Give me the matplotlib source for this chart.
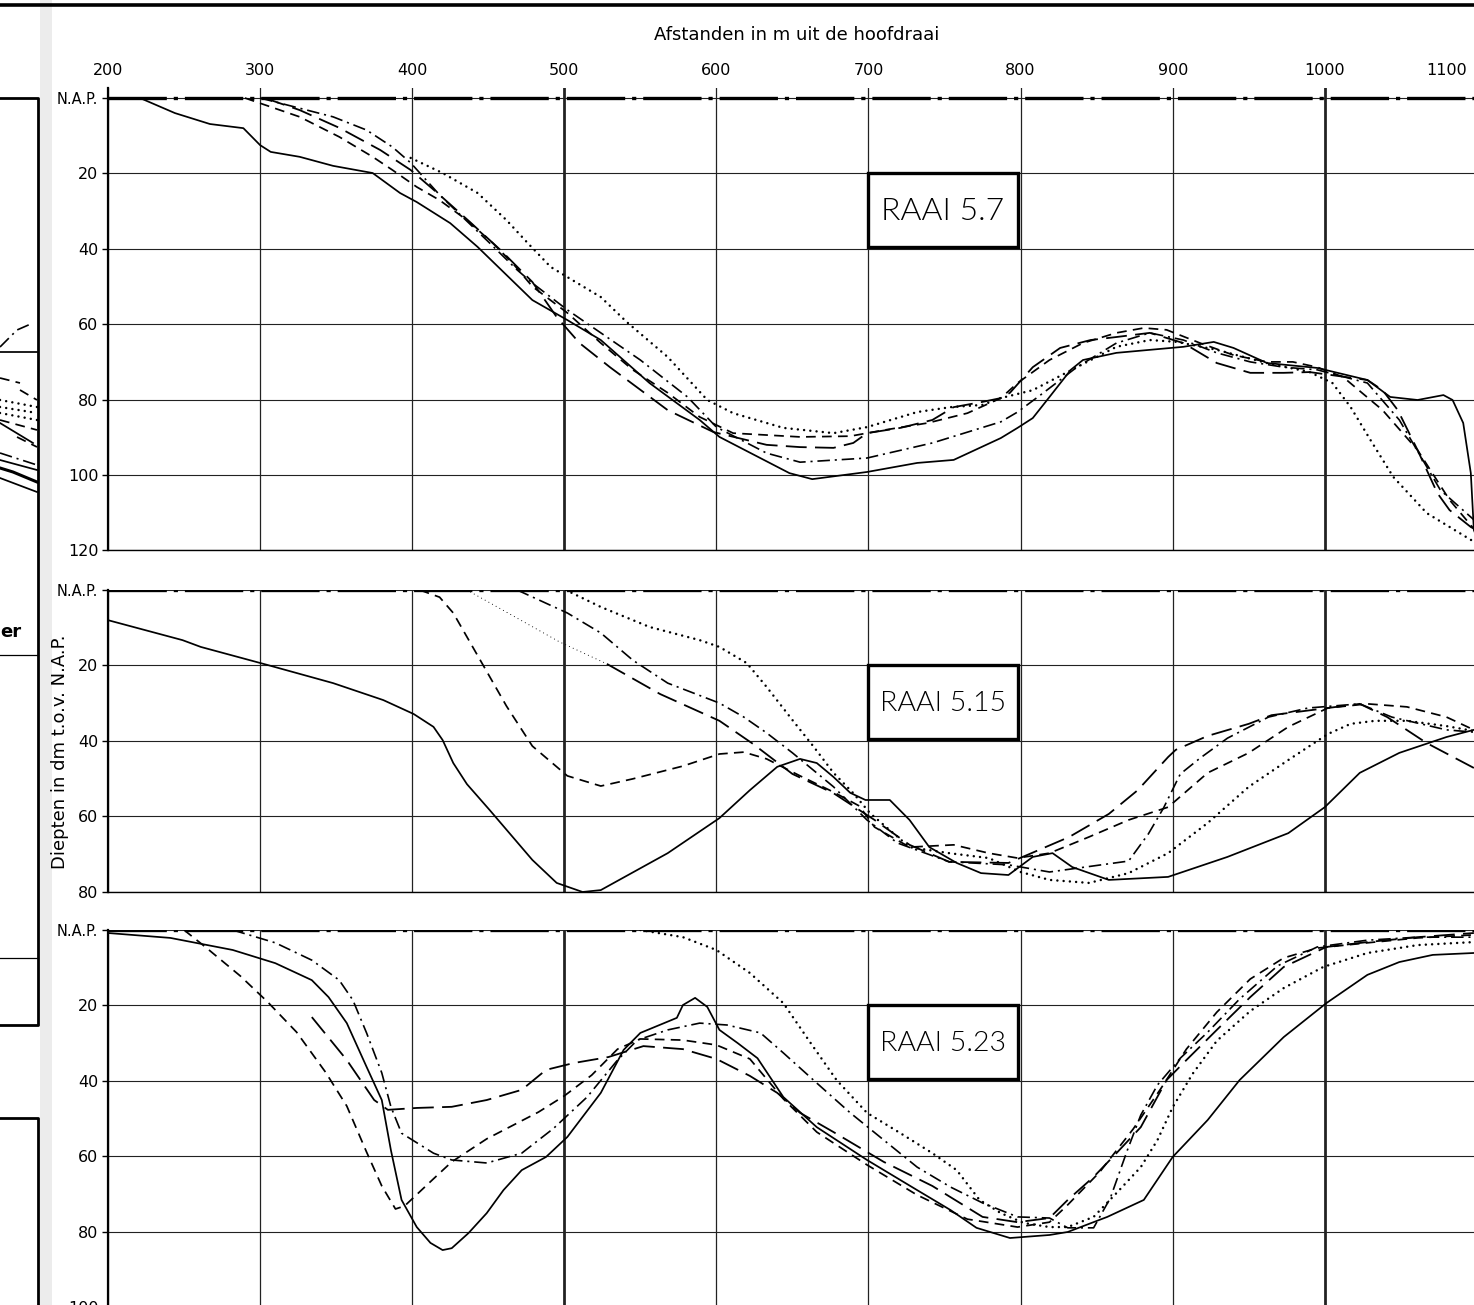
import matplotlib
matplotlib.use("Agg")
import matplotlib.pyplot as plt
from matplotlib.patches import Rectangle

plt.rcParams['lines.scale_dashes'] = False
plt.rcParams['font.family'] = ['DejaVu Sans']

# afstanden in m uit de hoofdraai, diepten in dm t.o.v. N.A.P.
# ---- RAAI 5.7 ----
r57_solid_x = [200, 221, 244, 267, 289, 300, 307, 326, 348, 374, 392, 403, 425, 443, 479, 502, 524, 556, 589, 602,
               648, 663, 699, 732, 756, 787, 798, 808, 819, 833, 841, 863, 907, 927, 940, 962, 995, 1028, 1043, 1061,
               1078, 1084, 1091, 1096, 1098, 1102]
r57_solid_d = [0, 0, 4, 6.9, 8, 12.5, 14.3, 15.6, 18, 19.9, 25.2, 27.6, 33.2, 39.5, 53.6, 58.9, 64.2, 75.6, 85.4, 89.9,
               99.5, 101.1, 99.2, 96.8, 96, 90.2, 87.5, 84.9, 79.3, 72.1, 69.5, 67.6, 66, 64.7, 66.3, 70.3, 71.6, 74.8,
               79.3, 80.1, 78.8, 80.1, 86.2, 99.5, 114.6, 118.6]
r57_dash_x = [290, 326, 352, 374, 387, 403, 418, 436, 453, 466, 479, 502, 524, 545, 568, 589, 611, 655, 688, 710,
              739, 765, 787, 798, 819, 841, 863, 881, 896, 918, 940, 962, 979, 995, 1012, 1038, 1061, 1082, 1097, 1102]
r57_dash_d = [0, 5.0, 10.3, 15.6, 19.1, 23.6, 27.1, 32.4, 38.5, 43.8, 50.0, 57.0, 65.0, 72.1, 78.2, 84.6, 88.9, 89.9,
              89.7, 88.1, 86.2, 83.6, 79.6, 75.6, 69.5, 65.0, 62.3, 61.0, 61.5, 65.0, 68.2, 70.0, 70.0, 71.4, 74.0,
              82.8, 93.4, 106.6, 113.8, 115.1]
r57_long_x = [303, 326, 352, 379, 399, 418, 438, 458, 479, 495, 510, 530, 568, 598, 633, 655, 677, 690, 699, 721,
              742, 756, 775, 787, 793, 808, 826, 846, 863, 885, 907, 929, 951, 973, 990, 1028, 1038, 1048, 1061, 1074,
              1082, 1096, 1102]
r57_long_d = [0, 3.2, 7.9, 13.8, 19.1, 25.7, 32.9, 40.3, 48.8, 58.1, 65.0, 71.4, 82.8, 88.6, 92.0, 92.6, 92.8, 91.5,
              88.9, 87.5, 85.4, 82.0, 80.6, 79.6, 78.2, 71.4, 66.3, 64.2, 63.4, 62.3, 65.0, 70.3, 72.9, 72.9, 72.7,
              74.8, 77.5, 82.8, 93.4, 104.8, 109.3, 113.8, 115.1]
r57_dashdot_x = [300, 348, 370, 387, 399, 418, 451, 469, 479, 502, 524, 550, 581, 600, 633, 655, 699, 742, 787, 798,
                 815, 837, 863, 885, 907, 929, 951, 973, 995, 1028, 1049, 1076, 1102]
r57_dashdot_d = [0, 5.0, 8.5, 13.0, 17.2, 25.7, 38.5, 45.6, 49.1, 56.2, 62.3, 69.5, 79.3, 87.3, 94.2, 96.6, 95.5,
                 91.5, 85.9, 83.3, 78.2, 71.4, 65.0, 62.3, 64.2, 67.6, 70.0, 71.4, 72.1, 75.6, 85.4, 104.0, 113.3]
r57_dot_x = [399, 420, 443, 462, 476, 491, 502, 524, 541, 568, 594, 611, 644, 677, 699, 732, 754, 775, 787, 808, 837,
             863, 885, 903, 929, 962, 990, 1005, 1017, 1030, 1045, 1067, 1096, 1102]
r57_dot_d = [15.9, 19.9, 25.2, 32.4, 38.5, 44.8, 47.5, 52.8, 59.4, 68.7, 80.1, 83.6, 87.5, 88.9, 87.3, 83.3, 82.0,
             81.4, 79.6, 77.5, 71.4, 66.0, 64.2, 64.7, 66.8, 70.3, 72.7, 75.6, 82.0, 90.7, 100.5, 110.1, 117.2, 118.6]

# ---- RAAI 5.15 ----
r515_solid_x = [200, 249, 261, 305, 348, 381, 401, 414, 420, 427, 436, 451, 479, 495, 512, 524, 568, 602, 622, 640,
                655, 666, 677, 688, 698, 714, 727, 740, 758, 774, 792, 808, 821, 834, 858, 897, 936, 976, 1000, 1023,
                1049, 1080, 1098]
r515_solid_d = [8, 13.3, 15.1, 19.9, 24.7, 29.2, 32.9, 36.3, 39.8, 45.9, 51.5, 58.4, 71.6, 77.7, 80.1, 79.6, 69.8,
                60.5, 53.1, 46.9, 44.8, 45.9, 49.6, 53.8, 55.7, 55.7, 61.0, 68.2, 72.4, 75.1, 75.6, 70.8, 69.8, 73.5,
                76.9, 76.1, 70.8, 64.5, 57.6, 48.5, 43.2, 39.0, 37.1]
r515_dash_x = [405, 418, 427, 447, 462, 479, 502, 524, 545, 578, 602, 618, 633, 655, 677, 694, 704, 727, 756, 779,
               798, 819, 845, 871, 897, 923, 950, 976, 1002, 1028, 1054, 1080, 1098]
r515_dash_d = [0, 1.9, 6.1, 20.2, 30.8, 41.4, 49.3, 52.0, 50.1, 46.7, 43.5, 43.0, 44.8, 49.3, 53.6, 57.3, 62.9, 68.2,
               67.6, 69.8, 71.1, 69.8, 65.5, 61.0, 57.6, 48.5, 43.2, 36.3, 31.3, 30.2, 31.0, 33.7, 37.1]
r515_long_x = [528, 563, 602, 624, 650, 677, 704, 727, 753, 792, 806, 832, 858, 877, 897, 902, 923, 950, 965, 1002,
               1023, 1041, 1067, 1098]
r515_long_d = [19.6, 27.6, 34.7, 40.8, 48.8, 53.9, 61.0, 67.6, 72.1, 72.4, 70.0, 65.5, 59.4, 53.1, 44.3, 42.4, 38.7,
               35.5, 33.2, 31.3, 30.2, 33.7, 40.6, 47.2]
r515_thin_x = [436, 497, 528]
r515_thin_d = [0, 13.8, 19.6]
r515_dashdot_x = [469, 502, 524, 545, 568, 602, 618, 633, 650, 677, 699, 719, 753, 792, 819, 871, 884, 894, 905, 918,
                  936, 963, 989, 1023, 1044, 1080, 1098]
r515_dashdot_d = [0, 6.1, 11.4, 18.6, 24.7, 30.0, 33.7, 37.9, 43.2, 52.2, 61.0, 67.1, 72.1, 72.9, 74.8, 71.9, 64.7,
                  57.8, 48.8, 44.6, 39.3, 33.7, 31.3, 30.2, 33.7, 37.1, 37.7]
r515_dot_x = [501, 524, 556, 589, 602, 620, 633, 650, 664, 677, 690, 701, 727, 753, 779, 800, 819, 845, 871, 897,
              923, 950, 976, 1002, 1017, 1033, 1054, 1080, 1098]
r515_dot_d = [0, 4.5, 9.8, 13.3, 15.1, 19.4, 25.7, 34.5, 41.6, 48.5, 53.9, 59.2, 68.2, 69.8, 71.1, 74.8, 76.9, 77.7,
              75.1, 69.8, 61.8, 52.2, 45.1, 38.2, 35.5, 34.7, 34.7, 36.1, 37.4]

# ---- RAAI 5.23 ----
r523_solid_x = [200, 241, 282, 310, 334, 345, 357, 370, 380, 386, 393, 403, 412, 420, 426, 437, 449, 460, 472, 488,
                502, 524, 539, 550, 574, 578, 586, 594, 602, 614, 627, 644, 666, 699, 732, 754, 771, 793, 819, 831,
                857, 881, 900, 923, 944, 973, 1001, 1028, 1049, 1071, 1098]
r523_solid_d = [0.8, 2.1, 5.3, 8.8, 13.3, 17.8, 24.7, 36.3, 45.1, 58.4, 71.6, 78.8, 83.0, 84.9, 84.4, 80.4, 75.1,
                69.0, 63.7, 60.2, 54.9, 43.2, 31.8, 27.3, 23.3, 19.9, 18.0, 20.4, 26.5, 30.0, 34.0, 44.3, 52.3, 61.0,
                69.0, 74.3, 79.0, 81.7, 80.9, 80.1, 76.1, 71.6, 60.2, 50.4, 39.8, 28.4, 19.4, 11.9, 8.5, 6.6, 6.1]
r523_dash_x = [250, 264, 287, 305, 324, 343, 357, 370, 380, 389, 395, 414, 426, 449, 483, 500, 518, 535, 550, 578,
               600, 622, 644, 666, 699, 732, 765, 798, 819, 831, 852, 874, 892, 909, 929, 951, 973, 995, 1028, 1061,
               1098]
r523_dash_d = [0, 4.5, 12.2, 19.1, 27.1, 37.7, 46.7, 58.9, 67.9, 74.0, 73.2, 66.0, 61.5, 55.4, 48.3, 44.0, 38.5, 31.6,
               28.9, 29.2, 30.5, 34.2, 44.8, 53.6, 62.3, 70.3, 76.7, 78.8, 77.5, 72.9, 64.2, 52.8, 42.2, 31.6, 21.8,
               13.0, 7.4, 4.8, 3.4, 2.1, 1.3]
r523_long_x = [334, 357, 375, 384, 403, 426, 449, 472, 488, 506, 529, 552, 578, 600, 622, 640, 655, 677, 710, 742,
               775, 798, 819, 831, 848, 863, 879, 896, 909, 929, 951, 973, 1001, 1028, 1061, 1098]
r523_long_d = [23.1, 34.5, 45.1, 47.7, 47.2, 46.9, 45.1, 42.4, 37.1, 35.3, 33.7, 30.8, 31.6, 34.2, 38.7, 43.2, 48.5,
               53.6, 61.5, 67.9, 76.1, 77.5, 76.4, 71.6, 65.5, 59.2, 52.3, 39.8, 34.5, 26.5, 17.8, 9.8, 4.5, 3.2, 1.9,
               0.8]
r523_dashdot_x = [282, 310, 334, 352, 361, 370, 380, 386, 393, 414, 426, 449, 472, 493, 515, 535, 548, 568, 589, 607,
                  629, 644, 666, 688, 710, 732, 754, 775, 798, 819, 831, 848, 859, 870, 879, 890, 905, 923, 944, 969,
                  995, 1028, 1061, 1098]
r523_dashdot_d = [0, 3.4, 8.0, 13.3, 18.6, 27.3, 37.9, 46.9, 53.9, 59.2, 61.0, 61.8, 59.2, 52.6, 44.3, 34.5, 29.2,
                  26.5, 24.7, 25.2, 27.3, 32.6, 40.6, 48.5, 55.7, 62.9, 68.2, 72.4, 76.1, 76.4, 79.0, 79.0, 71.1, 58.6,
                  49.1, 41.1, 34.0, 27.1, 18.3, 9.5, 4.5, 2.7, 1.9, 1.9]
r523_dot_x = [550, 578, 600, 622, 644, 662, 679, 699, 721, 742, 758, 773, 787, 802, 819, 831, 848, 863, 879, 890,
              900, 913, 929, 951, 973, 999, 1028, 1061, 1098]
r523_dot_d = [0, 1.9, 5.3, 11.4, 19.4, 30.0, 39.8, 48.5, 53.9, 59.2, 63.7, 71.6, 75.1, 77.7, 78.8, 78.8, 76.1, 69.8,
              62.9, 55.7, 47.0, 38.2, 29.4, 21.5, 15.4, 9.8, 6.1, 4.0, 3.2]

panels = [
    ('RAAI 5.7', 120, [(r57_solid_x, r57_solid_d, 'solid'), (r57_dash_x, r57_dash_d, 'dash'),
                       (r57_long_x, r57_long_d, 'long'), (r57_dashdot_x, r57_dashdot_d, 'dashdot'),
                       (r57_dot_x, r57_dot_d, 'dot')]),
    ('RAAI 5.15', 80, [(r515_solid_x, r515_solid_d, 'solid'), (r515_dash_x, r515_dash_d, 'dash'),
                       (r515_long_x, r515_long_d, 'long'), (r515_thin_x, r515_thin_d, 'thin'),
                       (r515_dashdot_x, r515_dashdot_d, 'dashdot'), (r515_dot_x, r515_dot_d, 'dot')]),
    ('RAAI 5.23', 100, [(r523_solid_x, r523_solid_d, 'solid'), (r523_dash_x, r523_dash_d, 'dash'),
                        (r523_long_x, r523_long_d, 'long'), (r523_dashdot_x, r523_dashdot_d, 'dashdot'),
                        (r523_dot_x, r523_dot_d, 'dot')]),
]
x_ticks = [200, 300, 400, 500, 600, 700, 800, 900, 1000]

# stukje van de naastliggende tekening links (afgesneden), in beeldpunten
left_frag = [
    ([0, 17, 33], [347, 330, 323], 'dashdot'),
    ([0, 37], [352, 352], 'solid'),
    ([0, 20], [378, 383], 'dash'),
    ([20, 37], [390, 400], 'dash'),
    ([0, 37], [400, 407], 'dot'),
    ([0, 37], [407, 413], 'dot'),
    ([0, 37], [413, 420], 'dot'),
    ([0, 37], [420, 430], 'dash'),
    ([0, 33], [423, 443], 'solid'),
    ([17, 37], [437, 447], 'dash'),
    ([0, 37], [453, 465], 'dashdot'),
    ([0, 37], [460, 470], 'solid'),
    ([0, 13, 37], [468, 472, 482], 'thick'),
    ([0, 37], [478, 492], 'solid'),
]

styles = {
    'solid': dict(lw=1.25, ls='-'),
    'thick': dict(lw=2.2, ls='-'),
    'dash': dict(lw=1.25, dashes=(7, 4.5)),
    'long': dict(lw=1.3, dashes=(15, 6)),
    'dashdot': dict(lw=1.2, dashes=(9, 3.5, 1.5, 3.5)),
    'dot': dict(lw=1.8, dashes=(0.01, 4.5), dash_capstyle='round'),
    'thin': dict(lw=0.8, dashes=(0.01, 3), dash_capstyle='round'),
}

W, H = 1474, 1305
fig = plt.figure(figsize=(W / 100, H / 100), dpi=100, facecolor='white')

# overlay in beeldpunten voor rand en afgesneden deel
ov = fig.add_axes([0, 0, 1, 1])
ov.set_xlim(0, W)
ov.set_ylim(H, 0)
ov.axis('off')
ov.plot([0, W], [5, 5], color='k', lw=2.6)
ov.add_patch(Rectangle((40, 0), 12, H, color='#ececec', lw=0))
ov.plot([0, 38, 38, 0], [98, 98, 1025, 1025], color='k', lw=2.0)
ov.plot([0, 38], [655, 655], color='k', lw=0.9)
ov.plot([0, 38], [958, 958], color='k', lw=0.9)
ov.plot([0, 38, 38], [1118, 1118, H], color='k', lw=2.0)
ov.text(0, 632, 'er', fontsize=13, fontweight='bold', ha='left', va='center')
for fx, fy, st in left_frag:
    ov.plot(fx, fy, color='k', **styles[st])

ax_left = 108 / W
ax_w = (W - 108) / W
x_right = 200 + (W - 108) / 1.521
px_per_dm = 3.77

panel_px = [(98, 2.6), (590, 0.0), (930, 0.0)]

for (label, ymax, curves), (y0, extra) in zip(panels, panel_px):
    top_px = y0 - extra * px_per_dm
    bot_px = y0 + ymax * px_per_dm
    ax = fig.add_axes([ax_left, 1 - bot_px / H, ax_w, (bot_px - top_px) / H])
    ax.set_facecolor('none')
    ax.set_xlim(200, x_right)
    ax.set_ylim(ymax, -extra)

    for s in ['top', 'right']:
        ax.spines[s].set_visible(False)
    ax.spines['left'].set_linewidth(1.6)
    ax.spines['bottom'].set_linewidth(1.0)

    ax.set_xticks(x_ticks)
    ax.grid(axis='x', color='#222222', lw=0.9)
    ax.grid(axis='y', color='#222222', lw=0.8)
    for xv in [500, 1000]:
        ax.axvline(xv, color='k', lw=1.8, zorder=1)

    yt = list(range(0, ymax + 1, 20))
    ax.set_yticks(yt)
    ax.set_yticklabels(['N.A.P.'] + [str(v) for v in yt[1:]], fontsize=11.5)
    ax.get_yticklabels()[0].set_fontsize(10.5)
    ax.tick_params(axis='y', length=4, width=1, pad=3)

    if label == 'RAAI 5.7':
        ax.xaxis.tick_top()
        ax.set_xticklabels([str(v) for v in x_ticks], fontsize=11.5)
        ax.tick_params(axis='x', length=0, pad=7)
        ax.annotate('1100', xy=(1080, 1), xycoords=('data', 'axes fraction'),
                    xytext=(0, 7), textcoords='offset points', fontsize=11.5, ha='center', va='bottom')
    else:
        ax.tick_params(axis='x', length=0, labelbottom=False)

    # N.A.P. lijn
    ax.axhline(0, color='k', lw=2.4, dashes=(42, 5, 3, 5), zorder=2)

    for cx, cd, st in curves:
        ax.plot(cx, cd, color='k', zorder=4, clip_on=True, **styles[st])

    ax.add_patch(Rectangle((700, 20), 98, 19.5, facecolor='white', edgecolor='k', lw=2.4, zorder=5))
    ax.text(749, 30, label, fontsize=23 if label == 'RAAI 5.7' else 20.5, family=['Lato', 'DejaVu Sans'],
            fontweight=300, color='k', ha='center', va='center', zorder=6)

fig.text(797 / W, 1 - 35 / H, 'Afstanden in m uit de hoofdraai', fontsize=13, ha='center', va='center')
fig.text(60 / W, 1 - 752 / H, 'Diepten in dm t.o.v. N.A.P.', fontsize=13, rotation=90,
         ha='center', va='center')

fig.savefig('out.png', dpi=100, facecolor='white')
